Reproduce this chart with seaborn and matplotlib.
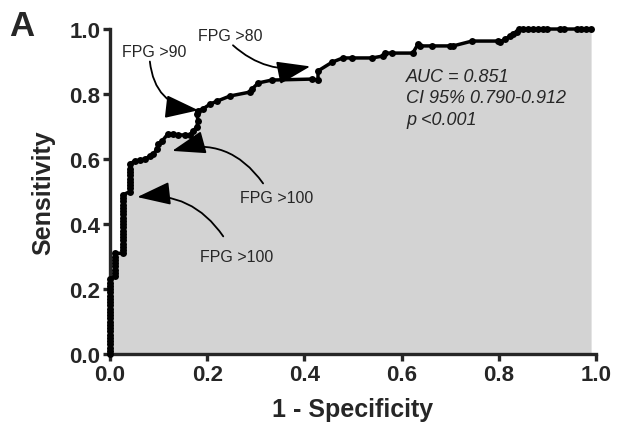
import matplotlib
matplotlib.use("Agg")
import matplotlib.pyplot as plt
import seaborn as sns
import pandas as pd

# ROC curve points (1 - specificity, sensitivity)
fpr = [0.0] * 24 + [0.01] * 8 + [0.027] * 19 + \
      [0.041] * 9 + \
      [0.051, 0.062, 0.072, 0.082, 0.089, 0.097, 0.099, 0.107,
       0.119, 0.130, 0.140, 0.154, 0.165, 0.171, 0.179, 0.181, 0.179, 0.181,
       0.191, 0.206, 0.220, 0.247, 0.288, 0.292, 0.305, 0.333,
       0.416, 0.428, 0.428, 0.457, 0.479, 0.498, 0.539, 0.562, 0.566, 0.580,
       0.623, 0.634, 0.638, 0.663, 0.700, 0.706, 0.745, 0.798, 0.802, 0.813,
       0.823, 0.829, 0.837, 0.842, 0.850, 0.860, 0.870, 0.880, 0.890, 0.900,
       0.925, 0.935, 0.960, 0.970, 0.980, 0.990]
tpr = [0.00, 0.01, 0.02, 0.03, 0.04, 0.05, 0.06, 0.07, 0.08, 0.09, 0.10, 0.11,
       0.12, 0.13, 0.14, 0.15, 0.16, 0.17, 0.18, 0.19, 0.20, 0.21, 0.22, 0.23,
       0.24, 0.25, 0.26, 0.27, 0.28, 0.29, 0.30, 0.31,
       0.31, 0.32, 0.33, 0.34, 0.35, 0.36, 0.37, 0.38, 0.39, 0.40, 0.41, 0.42,
       0.43, 0.44, 0.45, 0.46, 0.47, 0.48, 0.49,
       0.50, 0.51, 0.52, 0.53, 0.54, 0.55, 0.56, 0.57, 0.585,
       0.594, 0.597, 0.600, 0.609, 0.615, 0.631, 0.646, 0.655,
       0.677, 0.677, 0.674, 0.674, 0.674, 0.686, 0.700, 0.717, 0.738, 0.748,
       0.754, 0.769, 0.778, 0.794, 0.806, 0.815, 0.834, 0.843,
       0.846, 0.843, 0.871, 0.898, 0.911, 0.911, 0.911, 0.917, 0.926, 0.926,
       0.926, 0.954, 0.948, 0.948, 0.948, 0.948, 0.963, 0.963, 0.960, 0.969,
       0.978, 0.985, 0.991, 1.0, 1.0, 1.0, 1.0, 1.0, 1.0, 1.0,
       1.0, 1.0, 1.0, 1.0, 1.0, 1.0]

stats_lines = ["AUC = 0.851", "CI 95% 0.790-0.912", "p <0.001"]

# annotation label, label position, arrow start, arrow tip
cut_labels = ["FPG >80", "FPG >90", "FPG >100", "FPG >100"]
label_xy = [(0.247, 0.980), (0.091, 0.930), (0.343, 0.483), (0.261, 0.300)]
arrow_from = [(0.253, 0.950), (0.082, 0.900), (0.315, 0.525), (0.233, 0.362)]
arrow_to = [(0.412, 0.885), (0.182, 0.750), (0.128, 0.625), (0.056, 0.483)]

df = pd.DataFrame({"fpr": fpr, "tpr": tpr})

sns.set_style("ticks")
plt.rcParams["font.family"] = ["Liberation Sans", "DejaVu Sans"]

fig = plt.figure(figsize=(6.23, 4.39), dpi=100)
ax = fig.add_axes([0.1766, 0.1913, 0.7800, 0.7403])

ax.fill_between(df["fpr"], df["tpr"], 0, color="#d3d3d3", linewidth=0, zorder=1)
sns.lineplot(data=df, x="fpr", y="tpr", sort=False, estimator=None, ax=ax,
             color="black", linewidth=2.5, marker="o", markersize=5,
             markeredgewidth=0, zorder=3, clip_on=False)

ax.set_xlim(0, 1)
ax.set_ylim(0, 1)
ax.set_xticks([0, 0.2, 0.4, 0.6, 0.8, 1.0])
ax.set_yticks([0, 0.2, 0.4, 0.6, 0.8, 1.0])
ax.set_xticklabels(["0.0", "0.2", "0.4", "0.6", "0.8", "1.0"])
ax.set_yticklabels(["0.0", "0.2", "0.4", "0.6", "0.8", "1.0"])
for s in ["top", "right"]:
    ax.spines[s].set_visible(False)
for s in ["left", "bottom"]:
    ax.spines[s].set_linewidth(2.4)
ax.tick_params(width=2.4, length=5, labelsize=16, pad=2)
for lab in ax.get_xticklabels() + ax.get_yticklabels():
    lab.set_fontweight("bold")

ax.set_xlabel("1 - Specificity", fontsize=18, fontweight="bold", labelpad=9)
ax.set_ylabel("Sensitivity", fontsize=18, fontweight="bold", labelpad=10)

for i, line in enumerate(stats_lines):
    ax.text(0.609, 0.855 - i * 0.066, line, fontsize=13, style="italic",
            va="center", ha="left", zorder=5)

rads = [0.25, 0.4, 0.35, 0.3]
for lab, lxy, a0, a1, r in zip(cut_labels, label_xy, arrow_from, arrow_to, rads):
    ax.text(lxy[0], lxy[1], lab, fontsize=11.5, ha="center", va="center", zorder=5)
    ax.annotate("", xy=a1, xytext=a0,
                arrowprops=dict(arrowstyle="-|>,head_length=1.3,head_width=0.45",
                                mutation_scale=16, color="black", lw=1.3,
                                connectionstyle=f"arc3,rad={r}", shrinkA=0, shrinkB=0),
                annotation_clip=False, zorder=6)

fig.text(0.035, 0.94, "A", fontsize=25, fontweight="bold", va="center", ha="center")

fig.savefig("out.png", dpi=100)
